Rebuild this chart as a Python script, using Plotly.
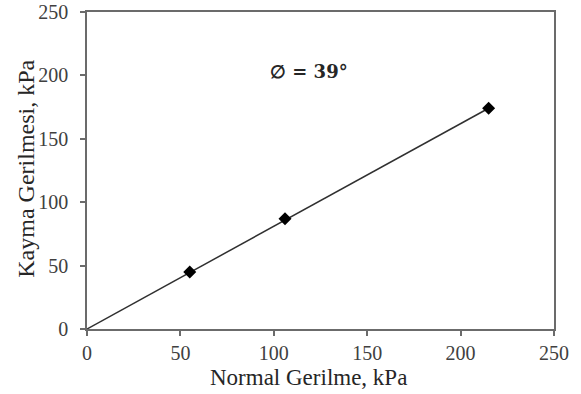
import math
import plotly.graph_objects as go

# Direct shear test results
normal_stress = [55, 106, 215]   # kPa
shear_stress = [45, 87, 174]     # kPa
friction_angle = 39              # degrees

x_ticks = [0, 50, 100, 150, 200, 250]
y_ticks = [0, 50, 100, 150, 200, 250]

# Failure envelope through the origin with slope tan(phi)
env_x = [0, max(normal_stress)]
env_y = [v * math.tan(math.radians(friction_angle)) for v in env_x]

serif = "Liberation Serif, Times New Roman, serif"
axis_color = "#6b6b6b"

fig = go.Figure()
fig.add_trace(go.Scatter(
    x=env_x, y=env_y, mode="lines",
    line=dict(color="#303030", width=1.5),
    showlegend=False, hoverinfo="skip",
))
fig.add_trace(go.Scatter(
    x=normal_stress, y=shear_stress, mode="markers",
    marker=dict(symbol="diamond", size=10, color="black"),
    showlegend=False,
))

axis_common = dict(
    showgrid=False, zeroline=False, automargin=False,
    showline=True, linecolor=axis_color, linewidth=1.5, mirror=True,
    ticks="outside", ticklen=5, tickwidth=1.5, tickcolor=axis_color,
    tickfont=dict(family=serif, size=20, color="#404040"),
)

fig.update_xaxes(range=[0, 250], tickvals=x_ticks, ticklabelstandoff=0, **axis_common)
fig.update_yaxes(range=[0, 250], tickvals=y_ticks, ticklabelstandoff=8, **axis_common)

title_font = dict(family=serif, size=23, color="#262626")
fig.add_annotation(
    text="Normal Gerilme, kPa", xref="paper", yref="paper",
    x=0.475, y=-0.152, xanchor="center", yanchor="middle",
    showarrow=False, font=title_font,
)
fig.add_annotation(
    text="Kayma Gerilmesi, kPa", xref="paper", yref="paper",
    x=-0.131, y=0.505, xanchor="center", yanchor="middle",
    textangle=-90, showarrow=False, font=dict(family=serif, size=24, color="#262626"),
)

fig.add_annotation(
    x=119, y=203, xref="x", yref="y",
    text=f"<b>\u2205 = {friction_angle}\u00b0</b>",
    showarrow=False,
    font=dict(family="DejaVu Serif, serif", size=18, color="#262626"),
)

fig.update_layout(
    width=581, height=394,
    margin=dict(l=87, r=27, t=12, b=65),
    plot_bgcolor="white", paper_bgcolor="white",
)

fig.write_html("out.html")
